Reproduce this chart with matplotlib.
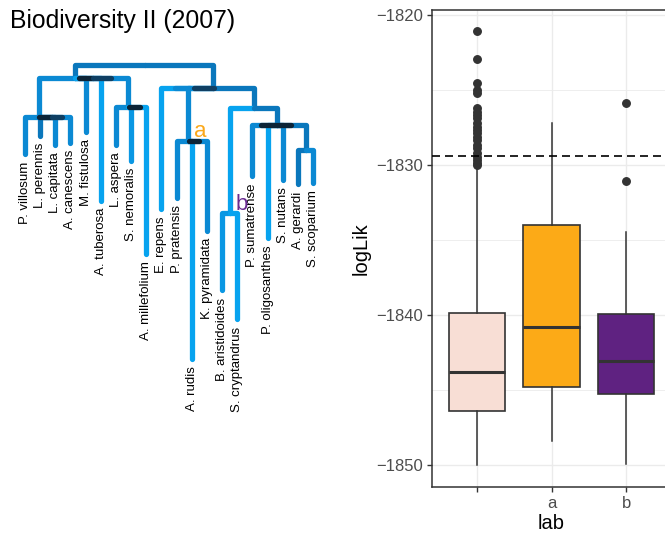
import matplotlib
matplotlib.use("Agg")
import matplotlib.pyplot as plt
from matplotlib.lines import Line2D

plt.rcParams['font.family'] = ['Liberation Sans', 'DejaVu Sans']

# ---------------- data: tree ----------------
tip_names = ["P. villosum", "L. perennis", "L. capitata", "A. canescens", "M. fistulosa",
             "A. tuberosa", "L. aspera", "S. nemoralis", "A. millefolium", "E. repens",
             "P. pratensis", "A. rudis", "K. pyramidata", "B. aristidoides", "S. cryptandrus",
             "P. sumatrense", "P. oligosanthes", "S. nutans", "A. gerardi", "S. scoparium"]
tip_depth = [8.9, 7.05, 7.95, 7.75, 6.65, 13.55, 7.95, 9.55, 18.9, 14.4,
             13.25, 29.4, 16.55, 22.5, 25.4, 11.1, 17.25, 11.45, 11.9, 11.75]
tip_parent = ["C4", "C4", "C4", "C4", "L", "L", "C3", "C3", "C3", "R",
              "A", "A", "A", "Bb", "Bb", "N", "N", "N", "G", "G"]
tip_shade = ["mid", "dark", "mid", "mid", "mid", "light", "mid", "light2", "light", "light",
             "mid", "light", "mid", "light2", "light", "mid", "light", "mid", "dark", "mid"]

node_names = ["root", "L", "C4", "C3", "R", "A", "B1", "Bb", "N", "G"]
node_pos = [7.9, 3.3, 0.95, 6.8, 12.4, 10.77, 15.1, 13.5, 16.6, 18.55]
node_depth = [0.0, 1.3, 5.17, 4.17, 2.33, 7.55, 4.33, 14.83, 6.0, 8.5]
node_parent = [None, "root", "L", "L", "root", "R", "R", "B1", "B1", "N"]
node_shade = [None, "dark", "mid", "mid", "dark", "mid", "dark", "light", "dark", "dark"]

# overlapping (multifurcation) stretches of the horizontal connectors
overlap_node = ["C4", "C4", "L", "L", "C3", "R", "R", "A", "N"]
overlap_from = [0.94, 1.76, 3.58, 4.51, 6.83, 9.9, 11.16, 10.83, 15.55]
overlap_to = [1.76, 2.47, 4.51, 5.64, 7.60, 10.9, 12.48, 11.49, 17.53]
overlap_shade = ["black", "navy", "black", "navy", "black", "mid", "navy", "black", "black"]

clade_labels = ["a", "b"]
clade_nodes = ["A", "Bb"]
clade_colors = ["#FBA81A", "#6A2C90"]

# ---------------- data: boxplot ----------------
groups = ["", "a", "b"]
box_q1 = [-1846.4, -1844.8, -1845.27]
box_med = [-1843.8, -1840.8, -1843.1]
box_q3 = [-1839.9, -1834.0, -1839.93]
box_lo = [-1850.0, -1848.4, -1849.93]
box_hi = [-1830.2, -1827.2, -1834.5]
fliers_1 = [-1821.07, -1822.96, -1824.56, -1825.0, -1825.22, -1826.22, -1826.44, -1826.67,
            -1826.89, -1827.22, -1827.44, -1827.67, -1827.89, -1828.11, -1828.33, -1828.67,
            -1828.89, -1829.22, -1829.44, -1829.67, -1829.89, -1830.0]
fliers_a = []
fliers_b = [-1825.9, -1831.1]
box_fill = ["#F8DED5", "#FCAA17", "#5F2281"]
ref_line = -1829.4

# ---------------- styling ----------------
shades = {"light": "#07A3EF", "light2": "#0A97E3", "mid": "#0B89D3",
          "dark": "#0A77BC", "black": "#0C2437", "navy": "#0F3F63"}

fig = plt.figure(figsize=(6.65, 5.4), dpi=100)

# ---------------- tree panel ----------------
axT = fig.add_axes([0, 0, 340 / 665, 1])
axT.set_xlim((0 - 25) / 15.16, (340 - 25) / 15.16)
axT.set_ylim((540 - 65) / 10, (0 - 65) / 10)
axT.axis("off")

npos = dict(zip(node_names, node_pos))
ndep = dict(zip(node_names, node_depth))
LW = 3.8

def edge(px, pd, cx, cd, col):
    axT.add_line(Line2D([px, cx, cx], [pd, pd, cd], color=col, lw=LW,
                        solid_capstyle="round", solid_joinstyle="round"))

for name, par, sh in zip(node_names, node_parent, node_shade):
    if par is None:
        continue
    edge(npos[par], ndep[par], npos[name], ndep[name], shades[sh])

for i, (d, par, sh) in enumerate(zip(tip_depth, tip_parent, tip_shade)):
    edge(npos[par], ndep[par], i, d, shades[sh])

for nd, a, b, sh in zip(overlap_node, overlap_from, overlap_to, overlap_shade):
    axT.add_line(Line2D([a, b], [ndep[nd], ndep[nd]], color=shades[sh], lw=LW,
                        solid_capstyle="round"))

for i, (name, d) in enumerate(zip(tip_names, tip_depth)):
    axT.annotate(name, xy=(i, d), xytext=(0, -5.4), textcoords="offset points",
                 rotation=90, ha="center", va="top", fontsize=9.5, color="black")

for lab, nd, col in zip(clade_labels, clade_nodes, clade_colors):
    axT.annotate(lab, xy=(npos[nd], ndep[nd]), xytext=(4, 2.7), textcoords="offset points",
                 ha="left", va="baseline", fontsize=16, color=col)

fig.text(10 / 665, 1 - 28 / 540, "Biodiversity II (2007)", fontsize=17.8,
         ha="left", va="baseline", color="black")

# ---------------- box plot panel ----------------
axB = fig.add_axes([432 / 665, 53 / 540, 239 / 665, 477 / 540])
stats = []
for lab, q1, m, q3, lo, hi, fl in zip(groups, box_q1, box_med, box_q3, box_lo, box_hi,
                                      [fliers_1, fliers_a, fliers_b]):
    stats.append(dict(label=lab, q1=q1, med=m, q3=q3, whislo=lo, whishi=hi, fliers=fl))

bp = axB.bxp(stats, positions=[1, 2, 3], widths=0.75, patch_artist=True, showcaps=False,
             boxprops=dict(linewidth=1.2, edgecolor="#333333"),
             medianprops=dict(color="#333333", linewidth=2.2, solid_capstyle="butt"),
             whiskerprops=dict(color="#333333", linewidth=1.1),
             flierprops=dict(marker="o", markerfacecolor="#333333", markeredgecolor="#333333",
                             markersize=5.4, linestyle="none"),
             zorder=3)
for patch, col in zip(bp["boxes"], box_fill):
    patch.set_facecolor(col)

axB.axhline(ref_line, color="black", lw=1.2, dashes=(4.8, 3), zorder=4)

axB.set_xlim(0.4, 3.6)
axB.set_ylim(-1851.47, -1819.67)
axB.set_yticks([-1850, -1840, -1830, -1820])
axB.set_yticks([-1845, -1835, -1825], minor=True)
axB.set_xticks([1, 2, 3])
axB.set_xticklabels(groups)
axB.set_axisbelow(True)
axB.grid(which="major", color="#EBEBEB", lw=1.0)
axB.grid(which="minor", axis="y", color="#EBEBEB", lw=0.6)
axB.tick_params(which="major", length=3.3, width=1.0, color="#333333",
                labelcolor="#4D4D4D", labelsize=12, pad=3.3)
axB.tick_params(which="minor", length=0)
for sp in axB.spines.values():
    sp.set_color("#333333")
    sp.set_linewidth(1.1)
axB.set_xlabel("lab", fontsize=14.5, labelpad=2)
axB.set_ylabel("logLik", fontsize=14.5, labelpad=4)

fig.savefig("out.png", dpi=100)
